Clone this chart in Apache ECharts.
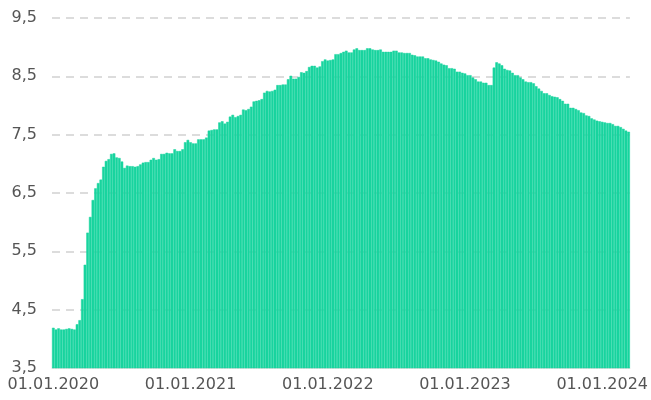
<!DOCTYPE html>
<html>
<head>
<meta charset="utf-8">
<script src="https://cdn.jsdelivr.net/npm/echarts@6/dist/echarts.min.js"></script>
<style>html,body{margin:0;padding:0;background:#fff}#c{width:651px;height:400px}</style>
</head>
<body>
<div id="c"></div>
<script>
// Weekly values, starting 01.01.2020
const startDate = '2020-01-01';
const values2020 = [4.19,4.16,4.18,4.16,4.16,4.17,4.18,4.17,4.16,4.25,4.32,4.68,5.27,5.82,6.09,6.38,6.58,6.67,6.73,6.95,7.05,7.08,7.17,7.18,7.11,7.10,7.04,6.93,6.97,6.96,6.96,6.95,6.96,6.99,7.02,7.03,7.03,7.07,7.10,7.07,7.08,7.17,7.17,7.19,7.18,7.18,7.25,7.22,7.22,7.25,7.37,7.41];
const values2021 = [7.37,7.35,7.35,7.42,7.42,7.42,7.45,7.57,7.58,7.59,7.59,7.71,7.73,7.69,7.72,7.81,7.84,7.80,7.82,7.84,7.93,7.92,7.94,7.98,8.07,8.08,8.09,8.11,8.22,8.25,8.24,8.25,8.27,8.35,8.35,8.36,8.36,8.45,8.51,8.46,8.46,8.49,8.57,8.56,8.59,8.66,8.68,8.68,8.65,8.67,8.76,8.79];
const values2022 = [8.77,8.78,8.79,8.88,8.88,8.90,8.92,8.94,8.91,8.91,8.96,8.98,8.95,8.95,8.95,8.98,8.98,8.96,8.95,8.95,8.96,8.92,8.92,8.92,8.92,8.94,8.94,8.91,8.91,8.90,8.90,8.90,8.87,8.86,8.84,8.84,8.84,8.81,8.81,8.79,8.78,8.77,8.75,8.72,8.70,8.69,8.64,8.64,8.63,8.58,8.58,8.56];
const values2023 = [8.55,8.52,8.52,8.48,8.45,8.41,8.41,8.39,8.39,8.35,8.35,8.65,8.74,8.72,8.69,8.63,8.61,8.60,8.56,8.52,8.52,8.48,8.45,8.41,8.40,8.40,8.38,8.33,8.29,8.25,8.21,8.21,8.18,8.16,8.15,8.14,8.11,8.08,8.03,8.03,7.96,7.96,7.94,7.92,7.88,7.87,7.83,7.82,7.78,7.76,7.74,7.73];
const values2024 = [7.72,7.71,7.70,7.70,7.68,7.65,7.65,7.63,7.60,7.57,7.55];
const tickLabels = ['01.01.2020','01.01.2021','01.01.2022','01.01.2023','01.01.2024'];

const values = [].concat(values2020, values2021, values2022, values2023, values2024);
const DAY = 86400000;
const t0 = Date.parse(startDate + 'T00:00:00Z');
function fmt(t){const d=new Date(t);const p=n=>String(n).padStart(2,'0');return p(d.getUTCDate())+'.'+p(d.getUTCMonth()+1)+'.'+d.getUTCFullYear();}
const categories = values.map((v,i)=>fmt(t0 + i*7*DAY));
const tickIndex = tickLabels.map(s=>{const [dd,mm,yy]=s.split('.');const t=Date.UTC(+yy,+mm-1,+dd);return Math.floor((t-t0)/DAY/7);});

const chart = echarts.init(document.getElementById('c'), null, {renderer:'canvas'});
chart.setOption({
  animation:false,
  grid:{left:52,right:20,top:18,bottom:32,containLabel:false},
  xAxis:{
    type:'category',
    data:categories,
    boundaryGap:true,
    axisLine:{show:true,lineStyle:{color:'#e0e0e0',width:1}},
    axisTick:{show:false},
    axisLabel:{
      interval:(idx)=>tickIndex.includes(idx),
      formatter:(val,idx)=>{const k=tickIndex.indexOf(idx);return k>=0?tickLabels[k]:'';},
      color:'#555',fontSize:16,fontFamily:'DejaVu Sans',margin:9
    },
    splitLine:{show:false}
  },
  yAxis:{
    type:'value',min:3.5,max:9.5,interval:1,
    axisLine:{show:false},axisTick:{show:false},
    axisLabel:{formatter:v=>v.toFixed(1).replace('.',','),color:'#555',fontSize:16,fontFamily:'DejaVu Sans',margin:15},
    splitLine:{show:true,lineStyle:{color:'#dcdcdc',width:2,type:[8,6]}}
  },
  series:[{
    type:'bar',
    data:values,
    barCategoryGap:'0%',
    itemStyle:{color:'#19d49f',borderColor:'#19d49f',borderWidth:0.5}
  }]
});
</script>
</body>
</html>
